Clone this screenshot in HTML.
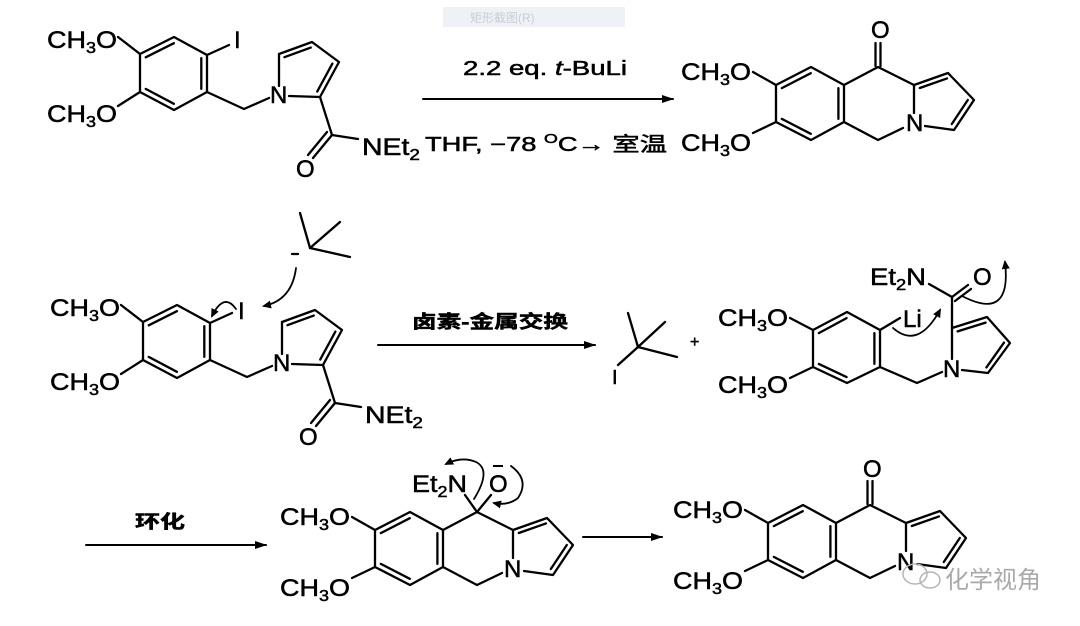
<!DOCTYPE html>
<html><head><meta charset="utf-8"><style>
html,body{margin:0;padding:0;background:#fff;width:1080px;height:626px;overflow:hidden}
svg{display:block}
text{font-family:"Liberation Sans","Noto Sans CJK SC",sans-serif;fill:#000;stroke:#000;stroke-width:0.5px}
.cn{font-family:"Liberation Sans","Noto Sans CJK SC",sans-serif;font-weight:bold}
.wm{stroke:none}
</style></head><body>
<svg width="1080" height="626" viewBox="0 0 1080 626" xmlns="http://www.w3.org/2000/svg">
<defs>
<marker id="ah" markerWidth="12" markerHeight="8" refX="11" refY="4" orient="auto" markerUnits="userSpaceOnUse"><path d="M0,0 L12,4 L0,8 z" fill="#000"/></marker>
<marker id="ch" markerWidth="9" markerHeight="8" refX="7" refY="4" orient="auto" markerUnits="userSpaceOnUse"><path d="M0,0 L9,4 L0,8 z" fill="#000"/></marker>
</defs>
<rect x="443" y="7" width="182" height="20" fill="#eef2f7"/>
<text x="470" y="22" font-size="12" class="wm" style="fill:#c9cdd5">矩形截图(R)</text>

<g stroke="#000" stroke-width="2.3" fill="none" stroke-linecap="round" stroke-linejoin="round">
<g>
<polygon points="177,305 210,323 210,360 177,378 143,360 143,322"/>
<line x1="176.9" y1="311.2" x2="148.7" y2="325.3"/>
<line x1="204.3" y1="326.1" x2="204.3" y2="356.9"/>
<line x1="148.7" y1="356.9" x2="176.9" y2="371.8"/>
<line x1="121" y1="305" x2="143" y2="322"/>
<line x1="121" y1="374" x2="143" y2="360"/>
<line x1="210" y1="323" x2="232" y2="313"/>
<polyline points="210,360 247,377 272,366"/>
<line x1="282" y1="354" x2="282" y2="322"/>
<polyline points="282,322 315,310 342,330 323,365 292,364"/>
<line x1="287.4" y1="325.2" x2="313.8" y2="315.6"/>
<line x1="335.4" y1="331.6" x2="320.2" y2="359.6"/>
<line x1="323" y1="365" x2="335" y2="403"/>
<line x1="335" y1="403" x2="361" y2="407"/>
<line x1="335" y1="403" x2="316" y2="426"/>
<line x1="330" y1="400" x2="311" y2="423"/>
</g>
<g transform="translate(-3,-268)">
<polygon points="177,305 210,323 210,360 177,378 143,360 143,322"/>
<line x1="176.9" y1="311.2" x2="148.7" y2="325.3"/>
<line x1="204.3" y1="326.1" x2="204.3" y2="356.9"/>
<line x1="148.7" y1="356.9" x2="176.9" y2="371.8"/>
<line x1="121" y1="305" x2="143" y2="322"/>
<line x1="121" y1="374" x2="143" y2="360"/>
<line x1="210" y1="323" x2="232" y2="313"/>
<polyline points="210,360 247,377 272,366"/>
<line x1="282" y1="354" x2="282" y2="322"/>
<polyline points="282,322 315,310 342,330 323,365 292,364"/>
<line x1="287.4" y1="325.2" x2="313.8" y2="315.6"/>
<line x1="335.4" y1="331.6" x2="320.2" y2="359.6"/>
<line x1="323" y1="365" x2="335" y2="403"/>
<line x1="335" y1="403" x2="361" y2="407"/>
<line x1="335" y1="403" x2="316" y2="426"/>
<line x1="330" y1="400" x2="311" y2="423"/>
</g>
<polyline points="300,213 310,248 340,222"/>
<line x1="310" y1="248" x2="350" y2="257"/>
<line x1="292" y1="254" x2="298" y2="254"/>
<path d="M296,268 Q292,300 264,306" marker-end="url(#ch)" stroke-width="1.8"/>
<path d="M236,309 Q224,292 212,316" marker-end="url(#ch)" stroke-width="1.8"/>

<g>
<polygon points="410,512 443,530 443,567 410,585 375,567 375,530"/>
<line x1="409.8" y1="518.2" x2="380.8" y2="533.1"/>
<line x1="437.4" y1="533.1" x2="437.4" y2="563.9"/>
<line x1="380.8" y1="563.9" x2="409.8" y2="578.8"/>
<line x1="352" y1="517" x2="375" y2="530"/>
<line x1="352" y1="578" x2="375" y2="567"/>
<polyline points="443,530 477,512 513,530"/>
<line x1="513" y1="530" x2="513" y2="558"/>
<polyline points="443,567 477,585 502,573"/>
<polyline points="513,530 547,518 573,545 553,575 524,571"/>
<line x1="518.8" y1="533" x2="546" y2="523.4"/>
<line x1="566.8" y1="545" x2="550.8" y2="569"/>
</g>
<line x1="477" y1="512" x2="465" y2="495"/>
<line x1="477" y1="512" x2="491" y2="495"/>
<path d="M474,499 Q492,470 476,462 Q462,456 446,464" marker-end="url(#ch)" stroke-width="1.8"/>
<path d="M511,466 Q530,480 518,498 Q508,506 494,503" marker-end="url(#ch)" stroke-width="1.8"/>

<g transform="translate(393,-7)">
<polygon points="410,512 443,530 443,567 410,585 375,567 375,530"/>
<line x1="409.8" y1="518.2" x2="380.8" y2="533.1"/>
<line x1="437.4" y1="533.1" x2="437.4" y2="563.9"/>
<line x1="380.8" y1="563.9" x2="409.8" y2="578.8"/>
<line x1="352" y1="517" x2="375" y2="530"/>
<line x1="352" y1="578" x2="375" y2="567"/>
<polyline points="443,530 477,512 513,530"/>
<line x1="513" y1="530" x2="513" y2="558"/>
<polyline points="443,567 477,585 502,573"/>
<polyline points="513,530 547,518 573,545 553,575 524,571"/>
<line x1="518.8" y1="533" x2="546" y2="523.4"/>
<line x1="566.8" y1="545" x2="550.8" y2="569"/>
<line x1="474.5" y1="511" x2="474.5" y2="488"/>
<line x1="479.5" y1="511" x2="479.5" y2="488"/>
</g>
<g transform="translate(401,-445)">
<polygon points="410,512 443,530 443,567 410,585 375,567 375,530"/>
<line x1="409.8" y1="518.2" x2="380.8" y2="533.1"/>
<line x1="437.4" y1="533.1" x2="437.4" y2="563.9"/>
<line x1="380.8" y1="563.9" x2="409.8" y2="578.8"/>
<line x1="352" y1="517" x2="375" y2="530"/>
<line x1="352" y1="578" x2="375" y2="567"/>
<polyline points="443,530 477,512 513,530"/>
<line x1="513" y1="530" x2="513" y2="558"/>
<polyline points="443,567 477,585 502,573"/>
<polyline points="513,530 547,518 573,545 553,575 524,571"/>
<line x1="518.8" y1="533" x2="546" y2="523.4"/>
<line x1="566.8" y1="545" x2="550.8" y2="569"/>
<line x1="474.5" y1="511" x2="474.5" y2="488"/>
<line x1="479.5" y1="511" x2="479.5" y2="488"/>
</g>

<polygon points="847,312 880,330 880,367 847,383 813,367 813,330"/>
<line x1="846.6" y1="318.1" x2="818.8" y2="333.1"/>
<line x1="874.4" y1="333.1" x2="874.4" y2="363.9"/>
<line x1="818.8" y1="363.9" x2="846.6" y2="377.1"/>
<line x1="790" y1="318" x2="813" y2="330"/>
<line x1="790" y1="378" x2="813" y2="367"/>
<line x1="880" y1="330" x2="900" y2="318"/>
<polyline points="880,367 917,383 942,372"/>
<line x1="952" y1="359" x2="952" y2="297"/>
<polyline points="952,328 987,317 1010,343 988,373 962,370"/>
<line x1="957.6" y1="331.4" x2="985.6" y2="322.6"/>
<line x1="1004" y1="342.6" x2="986.4" y2="367.4"/>
<line x1="952" y1="297" x2="968" y2="285"/>
<line x1="955" y1="301" x2="971" y2="289"/>
<line x1="929" y1="284" x2="952" y2="297"/>
<path d="M893,328 Q918,350 940,310" marker-end="url(#ch)" stroke-width="1.8"/>
<path d="M962,296 Q1012,322 1005,262" marker-end="url(#ch)" stroke-width="1.8"/>
<polyline points="628,313 638,347 665,322"/>
<line x1="638" y1="347" x2="677" y2="357"/>
<line x1="638" y1="347" x2="618" y2="365"/>

<line x1="423" y1="99" x2="673" y2="99" stroke-width="2" marker-end="url(#ah)"/>
<line x1="378" y1="345" x2="595" y2="345" stroke-width="2" marker-end="url(#ah)"/>
<line x1="86" y1="545" x2="266" y2="545" stroke-width="2" marker-end="url(#ah)"/>
<line x1="583" y1="537" x2="662" y2="537" stroke-width="2" marker-end="url(#ah)"/>
</g>

<g font-size="24">
<text x="47" y="48" textLength="70" lengthAdjust="spacingAndGlyphs">CH<tspan font-size="16" dy="5">3</tspan><tspan dy="-5">O</tspan></text>
<text x="47" y="122" textLength="70" lengthAdjust="spacingAndGlyphs">CH<tspan font-size="16" dy="5">3</tspan><tspan dy="-5">O</tspan></text>
<text x="234" y="48">I</text>
<text x="270" y="103">N</text>
<text x="296" y="177">O</text>
<text x="362" y="155" textLength="58" lengthAdjust="spacingAndGlyphs">NEt<tspan font-size="16" dy="5">2</tspan></text>
<text x="50" y="316" textLength="70" lengthAdjust="spacingAndGlyphs">CH<tspan font-size="16" dy="5">3</tspan><tspan dy="-5">O</tspan></text>
<text x="50" y="390" textLength="70" lengthAdjust="spacingAndGlyphs">CH<tspan font-size="16" dy="5">3</tspan><tspan dy="-5">O</tspan></text>
<text x="238" y="319">I</text>
<text x="273" y="371">N</text>
<text x="299" y="445">O</text>
<text x="365" y="423" textLength="58" lengthAdjust="spacingAndGlyphs">NEt<tspan font-size="16" dy="5">2</tspan></text>
<text x="681" y="80" textLength="70" lengthAdjust="spacingAndGlyphs">CH<tspan font-size="16" dy="5">3</tspan><tspan dy="-5">O</tspan></text>
<text x="681" y="151" textLength="70" lengthAdjust="spacingAndGlyphs">CH<tspan font-size="16" dy="5">3</tspan><tspan dy="-5">O</tspan></text>
<text x="871" y="38">O</text>
<text x="906" y="131">N</text>
<text x="612" y="384" font-size="20">I</text>
<text x="690" y="347" font-size="16">+</text>
<text x="718" y="326" textLength="70" lengthAdjust="spacingAndGlyphs">CH<tspan font-size="16" dy="5">3</tspan><tspan dy="-5">O</tspan></text>
<text x="718" y="393" textLength="70" lengthAdjust="spacingAndGlyphs">CH<tspan font-size="16" dy="5">3</tspan><tspan dy="-5">O</tspan></text>
<text x="903" y="327">Li</text>
<text x="943" y="377">N</text>
<text x="870" y="285" textLength="56" lengthAdjust="spacingAndGlyphs">Et<tspan font-size="16" dy="5">2</tspan><tspan dy="-5">N</tspan></text>
<text x="973" y="285">O</text>
<text x="280" y="525" textLength="70" lengthAdjust="spacingAndGlyphs">CH<tspan font-size="16" dy="5">3</tspan><tspan dy="-5">O</tspan></text>
<text x="280" y="596" textLength="70" lengthAdjust="spacingAndGlyphs">CH<tspan font-size="16" dy="5">3</tspan><tspan dy="-5">O</tspan></text>
<text x="504" y="577">N</text>
<text x="412" y="492" textLength="55" lengthAdjust="spacingAndGlyphs">Et<tspan font-size="16" dy="5">2</tspan><tspan dy="-5">N</tspan></text>
<text x="489" y="492">O</text>
<text x="673" y="518" textLength="70" lengthAdjust="spacingAndGlyphs">CH<tspan font-size="16" dy="5">3</tspan><tspan dy="-5">O</tspan></text>
<text x="673" y="589" textLength="70" lengthAdjust="spacingAndGlyphs">CH<tspan font-size="16" dy="5">3</tspan><tspan dy="-5">O</tspan></text>
<text x="863" y="477">O</text>
<text x="897" y="570">N</text>
</g>
<line x1="493" y1="466" x2="503" y2="466" stroke="#000" stroke-width="2"/>

<text x="463" y="75" font-size="20" textLength="164" lengthAdjust="spacingAndGlyphs">2.2 eq. <tspan font-style="italic">t</tspan>-BuLi</text>
<text x="425" y="151" font-size="20" textLength="242" lengthAdjust="spacingAndGlyphs">THF, −78 <tspan font-size="13" dy="-8">O</tspan><tspan dy="8">C→ 室温</tspan></text>
<text x="412" y="328" font-size="18" class="cn" textLength="156" lengthAdjust="spacingAndGlyphs">卤素-金属交换</text>
<text x="135" y="528" font-size="18" class="cn" textLength="50" lengthAdjust="spacingAndGlyphs">环化</text>

<g fill="none" stroke="#b5b5b5" stroke-width="1.5">
<ellipse cx="915" cy="574" rx="12" ry="10"/>
<ellipse cx="930" cy="580" rx="10" ry="8"/>
</g>
<text x="945" y="588" font-size="24" class="wm" style="fill:#aaaaaa">化学视角</text>
</svg>
</body></html>
